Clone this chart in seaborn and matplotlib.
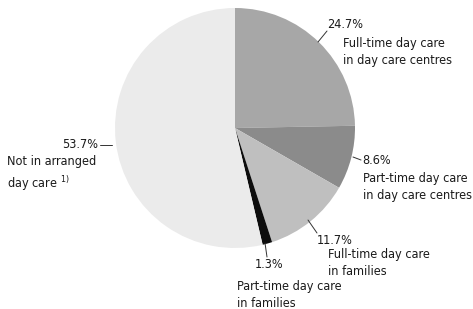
import matplotlib
matplotlib.use('Agg')
import matplotlib.pyplot as plt
import seaborn as sns

# ── Data ─────────────────────────────────────────────────────────────────────
categories = ['Full-time day care\nin day care centres',
              'Part-time day care\nin day care centres',
              'Full-time day care\nin families',
              'Part-time day care\nin families',
              'Not in arranged\nday care']
shares = [24.7, 8.6, 11.7, 1.3, 53.7]
footnotes = ['', '', '', '', '1)']
colors = ['#a7a7a7', '#8b8b8b', '#bfbfbf', '#0d0d0d', '#ebebeb']

W, H = 473, 309
sns.set_theme(style='white')
plt.rcParams['font.family'] = ['DejaVu Sans']
plt.rcParams['font.stretch'] = 'condensed'
plt.rcParams['mathtext.default'] = 'regular'

fig = plt.figure(figsize=(W / 100, H / 100), dpi=100)
ax = fig.add_axes([0, 0, 1, 1])


def py(y):
    # pixel row -> data y
    return H - y


ax.pie(shares, colors=colors, startangle=90, counterclock=False,
       center=(235, py(128)), radius=120, frame=True,
       wedgeprops=dict(linewidth=0))
ax.set_xlim(0, W)
ax.set_ylim(0, H)
ax.set_aspect('equal')
ax.axis('off')

txt = dict(fontsize=9.1, color='#1a1a1a', va='center', fontstretch='condensed')
lead = dict(color='#333333', lw=0.7)

# (percent x, y), (label x, y), leader segment, ha of percent
labels = [
    ((327, 25), (343, 52), [(318, 42), (327, 31)], 'left'),
    ((362, 160), (363, 187), [(353, 157), (361, 160)], 'left'),
    ((317, 240), (328, 263), [(308, 220), (317, 233)], 'left'),
    ((255, 265), (237, 295), [(265, 243), (267, 257)], 'left'),
    ((98, 145), (7, 174), [(100, 145), (112, 145)], 'right'),
]

for share, cat, note, (pxy, lxy, seg, ha) in zip(shares, categories,
                                                 footnotes, labels):
    ax.text(pxy[0], py(pxy[1]), f'{share}%', ha=ha, **txt)
    label = cat + (f' $^{{{note}}}$' if note else '')
    ax.text(lxy[0], py(lxy[1]), label, ha='left', linespacing=1.45, **txt)
    ax.plot([seg[0][0], seg[1][0]], [py(seg[0][1]), py(seg[1][1])], **lead)

fig.savefig('out.png', dpi=100, facecolor='white')
